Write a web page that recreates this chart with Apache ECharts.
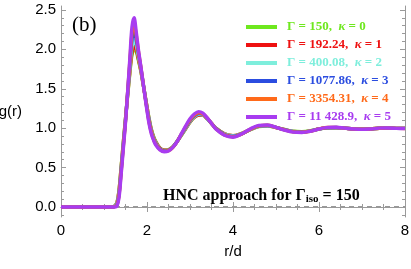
<!DOCTYPE html>
<html><head><meta charset="utf-8">
<script src="https://cdn.jsdelivr.net/npm/echarts@6/dist/echarts.min.js"></script>
<style>html,body{margin:0;padding:0;background:#fff}#c{width:411px;height:269px}</style>
</head><body><div id="c"></div>
<script>
const R = [0, 0.5, 1.0, 1.2, 1.25, 1.3, 1.35, 1.4, 1.45, 1.5, 1.55, 1.6, 1.65, 1.7, 1.75, 1.8, 1.85, 1.9, 1.95, 2.0, 2.05, 2.1, 2.15, 2.2, 2.3, 2.4, 2.5, 2.6, 2.7, 2.8, 2.9, 3.0, 3.1, 3.2, 3.3, 3.4, 3.5, 3.6, 3.8, 4.0, 4.2, 4.4, 4.6, 4.8, 5.0, 5.2, 5.4, 5.6, 5.8, 6.0, 6.2, 6.4, 6.6, 6.8, 7.0, 7.2, 7.4, 7.6, 7.8, 8.0];
const gK0 = [0,0,0,0,0.014,0.055,0.22,0.52,0.83,1.12,1.41,1.69,1.93,2.00,1.97,1.86,1.74,1.59,1.43,1.27,1.12,0.99,0.9,0.835,0.75,0.722,0.727,0.763,0.83,0.91,0.993,1.075,1.135,1.165,1.162,1.117,1.06,1.0,0.93,0.905,0.933,0.98,1.021,1.028,1.008,0.983,0.961,0.956,0.967,0.99,1.004,1.006,1.0,0.992,0.988,0.992,0.999,1.001,0.998,0.997];
const gK1 = [0,0,0,0,0.012,0.05,0.21,0.51,0.82,1.12,1.42,1.71,1.96,2.04,2.0,1.88,1.75,1.59,1.43,1.27,1.11,0.98,0.89,0.83,0.745,0.72,0.725,0.762,0.83,0.912,0.995,1.078,1.138,1.168,1.165,1.118,1.06,1.0,0.928,0.903,0.932,0.981,1.022,1.029,1.008,0.982,0.96,0.955,0.966,0.99,1.004,1.006,1.0,0.992,0.988,0.992,0.999,1.001,0.998,0.997];
const gK2 = [0,0,0,0,0.01,0.04,0.19,0.49,0.81,1.11,1.43,1.75,2.03,2.11,2.05,1.91,1.77,1.60,1.43,1.26,1.10,0.97,0.88,0.82,0.74,0.715,0.72,0.76,0.83,0.915,1.0,1.085,1.145,1.175,1.17,1.12,1.06,1.0,0.925,0.9,0.93,0.982,1.024,1.031,1.009,0.981,0.958,0.953,0.965,0.99,1.005,1.007,1.0,0.992,0.988,0.991,0.999,1.001,0.998,0.997];
const gK3 = [0,0,0,0,0.008,0.03,0.17,0.47,0.79,1.10,1.45,1.80,2.12,2.22,2.12,1.95,1.79,1.61,1.43,1.25,1.09,0.96,0.87,0.81,0.735,0.71,0.72,0.76,0.83,0.92,1.01,1.095,1.155,1.185,1.175,1.125,1.06,0.998,0.92,0.895,0.927,0.983,1.027,1.034,1.01,0.98,0.956,0.951,0.964,0.99,1.006,1.008,1.0,0.991,0.987,0.991,0.999,1.001,0.998,0.997];
const gK4 = [0,0,0,0,0.005,0.02,0.15,0.45,0.77,1.09,1.46,1.84,2.2,2.32,2.18,1.98,1.80,1.61,1.42,1.24,1.07,0.95,0.86,0.80,0.73,0.705,0.715,0.755,0.83,0.925,1.02,1.105,1.165,1.195,1.18,1.13,1.06,0.995,0.915,0.89,0.925,0.985,1.03,1.037,1.01,0.978,0.953,0.948,0.962,0.99,1.008,1.01,1.0,0.99,0.986,0.99,0.999,1.001,0.998,0.996];
const gK5 = [0,0,0,0,0,0.01,0.12,0.42,0.74,1.07,1.46,1.88,2.28,2.40,2.22,2.00,1.81,1.61,1.41,1.22,1.05,0.93,0.85,0.79,0.725,0.70,0.71,0.755,0.83,0.93,1.03,1.12,1.18,1.21,1.19,1.13,1.06,0.99,0.91,0.885,0.925,0.99,1.035,1.04,1.01,0.975,0.95,0.945,0.96,0.99,1.01,1.012,1.0,0.99,0.985,0.99,1.0,1.002,0.998,0.995];
const hncR = [0, 8];
const hncG = [0, 0];
const names = ['Γ = 150,  κ = 0','Γ = 192.24,  κ = 1','Γ = 400.08,  κ = 2','Γ = 1077.86,  κ = 3','Γ = 3354.31,  κ = 4','Γ = 11 428.9,  κ = 5'];
const colors = ['#6ee81e','#ee1111','#7eeedc','#2b4de0','#ff6a1a','#a83cf0'];
const gAll = [gK0,gK1,gK2,gK3,gK4,gK5];
const xTicks = [0,2,4,6,8];
const yTicks = [0,0.5,1.0,1.5,2.0,2.5];
const yMinor = [];
for (let i = -1; i <= 25; i++) yMinor.push(+(i*0.1).toFixed(1));

const chart = echarts.init(document.getElementById('c'));
const frame = '#9a9a9a';
const serif = 'Liberation Serif';
const sans = 'Liberation Sans';
const series = [{
  type:'line', name:'HNC', data: hncR.map((r,i)=>[r,hncG[i]]), showSymbol:false, z:1,
  lineStyle:{color:'#999', width:2, type:[5,4]}, silent:true
}];
gAll.forEach((g,k)=>{
  series.push({type:'line', name:names[k], data:R.map((r,i)=>[r,g[i]]), showSymbol:false, smooth:0.35, z:2+k,
    itemStyle:{color:colors[k]}, lineStyle:{color:colors[k], width:3.4}});
});
const yBase = {type:'value', min:-0.127, max:2.55, splitLine:{show:false}};
chart.setOption({
  animation:false,
  grid:{left:61, right:6, top:6, bottom:52, containLabel:false, outerBoundsMode:'none'},
  legend:{
    orient:'vertical', left:241, top:15, itemWidth:31, itemHeight:4, itemGap:4, icon:'rect',
    data: names.map((n,k)=>({name:n, textStyle:{color:colors[k]}})),
    textStyle:{fontFamily:serif, fontWeight:'bold', fontSize:13, lineHeight:14, padding:[0,0,0,5],
      rich:{k:{fontStyle:'italic', fontFamily:serif, fontWeight:'bold', fontSize:13}}},
    formatter: n => n.replace('κ','{k|κ}')
  },
  xAxis:[
    {type:'value', min:0, max:8, interval:2, position:'bottom',
     axisLine:{lineStyle:{color:frame}}, axisTick:{inside:true, length:5, lineStyle:{color:frame}},
     minorTick:{show:true, splitNumber:4, length:3, lineStyle:{color:frame}},
     axisLabel:{color:'#000', fontFamily:sans, fontSize:15, margin:6}, splitLine:{show:false},
     name:'r/d', nameLocation:'middle', nameGap:27, nameTextStyle:{color:'#000', fontFamily:sans, fontSize:15}},
    {type:'value', min:0, max:8, interval:2, position:'top',
     axisLine:{lineStyle:{color:frame}}, axisTick:{inside:true, length:5, lineStyle:{color:frame}},
     minorTick:{show:true, splitNumber:4, length:3, lineStyle:{color:frame}},
     axisLabel:{show:false}, splitLine:{show:false}}
  ],
  yAxis:[
    Object.assign({}, yBase, {position:'left',
     axisLine:{show:true, lineStyle:{color:frame}},
     axisTick:{inside:true, length:5, customValues:yTicks, lineStyle:{color:frame}},
     axisLabel:{customValues:yTicks, color:'#000', fontFamily:sans, fontSize:15, margin:5, formatter:v=>v.toFixed(1)},
     name:'g(r)', nameLocation:'middle', nameRotate:0, nameGap:39,
     nameTextStyle:{color:'#000', fontFamily:sans, fontSize:15, align:'right'}}),
    Object.assign({}, yBase, {position:'left',
     axisLine:{show:false}, axisTick:{inside:true, length:3, customValues:yMinor, lineStyle:{color:frame}},
     axisLabel:{show:false}}),
    Object.assign({}, yBase, {position:'right',
     axisLine:{show:true, lineStyle:{color:frame}}, axisTick:{inside:true, length:5, customValues:yTicks, lineStyle:{color:frame}},
     axisLabel:{show:false}}),
    Object.assign({}, yBase, {position:'right',
     axisLine:{show:false}, axisTick:{inside:true, length:3, customValues:yMinor, lineStyle:{color:frame}},
     axisLabel:{show:false}})
  ],
  graphic:[
    {type:'text', left:72, top:15, style:{text:'(b)', fontFamily:serif, fontSize:21, fill:'#000'}},
    {type:'text', left:163, top:188, style:{
      text:'HNC approach for Γ{sub|iso} = 150', fontFamily:serif, fontWeight:'bold', fontSize:16, fill:'#000',
      rich:{sub:{fontFamily:serif, fontWeight:'bold', fontSize:11, padding:[6,0,0,0], fill:'#000'}}}}
  ],
  series: series
});
</script></body></html>
